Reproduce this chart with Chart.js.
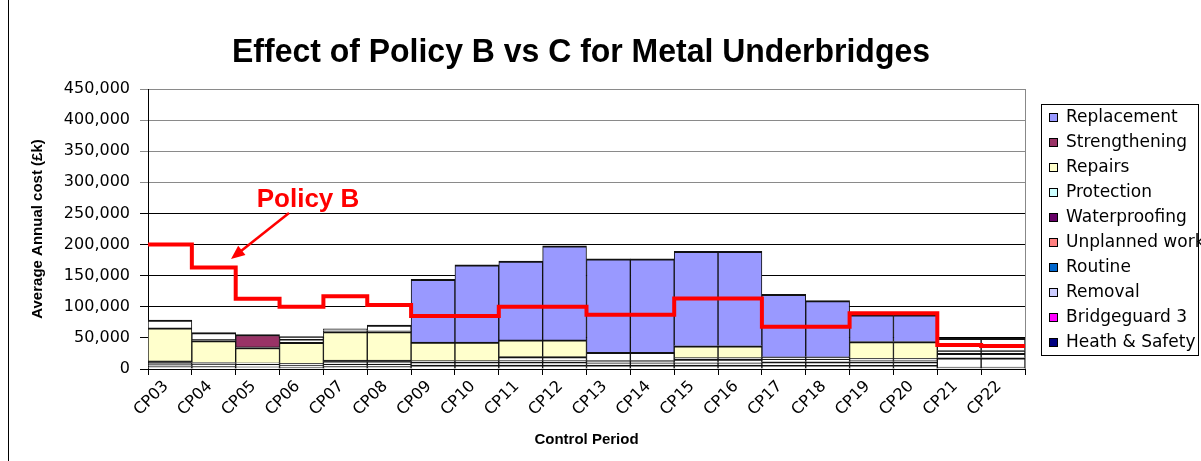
<!DOCTYPE html>
<html>
<head>
<title>Effect of Policy B vs C for Metal Underbridges</title>
<script src="https://cdn.jsdelivr.net/npm/chart.js"></script>
<style>
  body { margin: 0; background: #fff; }
  #wrap { width: 1201px; height: 461px; }
</style>
</head>
<body>
<div id="wrap"><canvas id="costChart" width="1201" height="461"></canvas></div>
<script>
// control periods (x categories)
const periods = ['CP03', 'CP04', 'CP05', 'CP06', 'CP07', 'CP08', 'CP09', 'CP10', 'CP11', 'CP12',
                 'CP13', 'CP14', 'CP15', 'CP16', 'CP17', 'CP18', 'CP19', 'CP20', 'CP21', 'CP22'];

// Policy C cost breakdown, average annual cost (£k), stacked bottom -> top
const heathSafety   = [4000, 4000, 3500, 3000, 4000, 4000, 6400, 6400, 6400, 6400, 6400, 6400, 6400, 6400, 6000, 6000, 6000, 6000, 3000, 3000];
const bridgeguard3  = [3000, 4500, 4500, 3500, 4000, 4000, 4300, 4300, 4300, 4300, 3600, 3600, 3600, 3600, 5500, 5500, 5500, 5500, 15000, 15000];
const removal       = [3000, 2000, 2000, 2500, 4000, 4000, 2700, 2700, 2700, 2700, 3400, 3400, 5600, 5600, 4500, 4500, 3000, 3000, 7000, 7000];
const waterproofing = [3000, null, null, null, 2500, 2500, null, null, null, null, null, null, null, null, null, null, null, null, null, null];
const unplanned     = [null, null, null, null, null, null, null, null, 6400, 6400, 13400, 13400, 2600, 2600, 3500, 3500, 2500, 2500, 4500, 4500];
const repairs       = [53000, 35000, 24500, 34000, 45500, 45500, 30000, 30000, 27000, 27000, null, null, 19000, 19000, null, null, 27000, 27000, null, null];
const routine       = [null, 2200, null, 4500, 1500, 1500, null, null, null, null, null, null, null, null, null, null, null, null, 9000, 9000];
const protection    = [12500, 10800, 1000, 4500, 3000, 9000, null, null, null, null, null, null, null, null, null, null, null, null, 10800, 10800];
const strengthening = [null, null, 20000, null, null, null, null, null, null, null, null, null, null, null, null, null, null, null, null, null];
const replacement   = [null, null, null, null, null, null, 100600, 124100, 126800, 151200, 150200, 150200, 151800, 151800, 100500, 90500, 43000, 43000, null, null];

// Policy B total (£k), one level per control period
const policyB = [200000, 163000, 113000, 100000, 117000, 103000, 85000, 85000, 100000, 100000,
                 87000, 87000, 113500, 113500, 68000, 68000, 89500, 89500, 38500, 37000];

const yTicks = [0, 50000, 100000, 150000, 200000, 250000, 300000, 350000, 400000, 450000];

const serif = "'Liberation Sans', Arial, sans-serif";
const wide = "'DejaVu Sans', sans-serif";

// bar fill as it appears, key = legend swatch colour
const series = [
  { label: 'Heath & Safety', data: heathSafety, fill: '#ffffff', key: '#000080' },
  { label: 'Bridgeguard 3', data: bridgeguard3, fill: '#ffffff', key: '#ff00ff' },
  { label: 'Removal', data: removal, fill: '#ffffff', key: '#ccccff' },
  { label: 'Waterproofing', data: waterproofing, fill: '#3a3a3a', key: '#660066' },
  { label: 'Unplanned work', data: unplanned, fill: '#ffffff', key: '#ff8080' },
  { label: 'Repairs', data: repairs, fill: '#ffffcc', key: '#ffffcc' },
  { label: 'Routine', data: routine, fill: '#ffffff', key: '#0066cc' },
  { label: 'Protection', data: protection, fill: '#ffffff', key: '#ccffff' },
  { label: 'Strengthening', data: strengthening, fill: '#993366', key: '#993366' },
  { label: 'Replacement', data: replacement, fill: '#9999ff', key: '#9999ff' }
];
const legendOrder = ['Replacement', 'Strengthening', 'Repairs', 'Protection', 'Waterproofing',
                     'Unplanned work', 'Routine', 'Removal', 'Bridgeguard 3', 'Heath & Safety'];

const datasets = series.map(s => ({
  type: 'bar',
  label: s.label,
  data: s.data,
  backgroundColor: s.fill,
  borderColor: '#111',
  borderWidth: { top: 2, left: 1, right: 1, bottom: 0 },
  barPercentage: 1,
  categoryPercentage: 1,
  grouped: false,
  stack: 'policyC',
  order: 1
}));

// step line spans each whole period: point at each period's left edge
const stepPoints = policyB.map((v, i) => ({ x: i, y: v }));
stepPoints.push({ x: policyB.length, y: policyB[policyB.length - 1] });

datasets.push({
  type: 'line',
  label: 'Policy B',
  data: stepPoints,
  xAxisID: 'xLine',
  borderColor: '#ff0000',
  borderWidth: 4,
  pointRadius: 0,
  stepped: true,
  fill: false,
  order: 0
});

const decor = {
  id: 'decor',
  beforeDraw(chart) {
    const ctx = chart.ctx;
    ctx.save();
    ctx.fillStyle = '#fff';
    ctx.fillRect(0, 0, chart.width, chart.height);
    ctx.restore();
  },
  afterDraw(chart) {
    const ctx = chart.ctx;
    const area = chart.chartArea;
    ctx.save();

    // outer frame edge
    ctx.strokeStyle = '#000';
    ctx.lineWidth = 1;
    ctx.beginPath();
    ctx.moveTo(8.5, 0);
    ctx.lineTo(8.5, chart.height);
    ctx.stroke();

    // right edge of plot area
    ctx.strokeStyle = '#888';
    ctx.beginPath();
    ctx.moveTo(area.right + 0.5, area.top);
    ctx.lineTo(area.right + 0.5, area.bottom);
    ctx.stroke();

    // title
    ctx.fillStyle = '#000';
    ctx.font = 'bold 34px ' + serif;
    ctx.textAlign = 'center';
    ctx.textBaseline = 'alphabetic';
    ctx.save();
    ctx.translate(581, 62);
    ctx.scale(0.94, 1);
    ctx.fillText('Effect of Policy B vs C for Metal Underbridges', 0, 0);
    ctx.restore();

    // legend
    ctx.strokeStyle = '#000';
    ctx.strokeRect(1041.5, 104.5, 157, 251);
    ctx.font = '17px ' + wide;
    ctx.textAlign = 'left';
    ctx.textBaseline = 'middle';
    legendOrder.forEach((name, i) => {
      const s = series.find(d => d.label === name);
      const cy = 117 + i * 25;
      ctx.fillStyle = s.key;
      ctx.fillRect(1049, cy - 4, 9, 9);
      ctx.strokeStyle = '#000';
      ctx.strokeRect(1049.5, cy - 3.5, 8, 8);
      ctx.fillStyle = '#000';
      ctx.fillText(name, 1066, cy + 1);
    });

    // Policy B callout
    ctx.fillStyle = '#ff0000';
    ctx.font = 'bold 26px ' + serif;
    ctx.textAlign = 'center';
    ctx.textBaseline = 'alphabetic';
    ctx.fillText('Policy B', 308, 207);

    const x0 = 289, y0 = 213, x1 = 231, y1 = 259;
    const ang = Math.atan2(y1 - y0, x1 - x0);
    ctx.strokeStyle = '#ff0000';
    ctx.lineWidth = 2.5;
    ctx.beginPath();
    ctx.moveTo(x0, y0);
    ctx.lineTo(x1 - 10 * Math.cos(ang), y1 - 10 * Math.sin(ang));
    ctx.stroke();
    ctx.beginPath();
    ctx.moveTo(x1, y1);
    ctx.lineTo(x1 - 15 * Math.cos(ang - 0.4), y1 - 15 * Math.sin(ang - 0.4));
    ctx.lineTo(x1 - 15 * Math.cos(ang + 0.4), y1 - 15 * Math.sin(ang + 0.4));
    ctx.closePath();
    ctx.fill();

    ctx.restore();
  }
};

new Chart(document.getElementById('costChart'), {
  data: { labels: periods, datasets: datasets },
  plugins: [decor],
  options: {
    responsive: false,
    animation: false,
    layout: { padding: { left: 0, top: 89, right: 176, bottom: 0 } },
    plugins: {
      legend: { display: false },
      tooltip: { enabled: false },
      title: { display: false }
    },
    scales: {
      x: {
        type: 'category',
        stacked: true,
        offset: true,
        grid: { offset: true, drawOnChartArea: false, drawTicks: true, tickLength: 6, color: '#000' },
        border: { color: '#000', width: 1 },
        ticks: { color: '#000', font: { family: wide, size: 16 }, minRotation: 45, maxRotation: 45, padding: 2, labelOffset: -4 },
        title: { display: true, text: 'Control Period', color: '#000', font: { family: serif, size: 15, weight: 'bold' }, padding: { top: 0, bottom: 12 } },
        afterFit(axis) { axis.height = 92; }
      },
      xLine: {
        type: 'linear',
        display: false,
        min: 0,
        max: periods.length
      },
      y: {
        stacked: true,
        min: 0,
        max: 450000,
        afterBuildTicks(axis) { axis.ticks = yTicks.map(v => ({ value: v })); },
        grid: {
          color: c => (c.tick && c.tick.value >= 300000 ? '#8a8a8a' : '#000'),
          tickLength: 8,
          drawTicks: true
        },
        border: { color: '#000', width: 1 },
        ticks: {
          color: '#000',
          padding: 10,
          font: { family: wide, size: 16 },
          callback: v => v.toLocaleString('en-US')
        },
        title: { display: true, text: 'Average Annual cost (£k)', color: '#000', font: { family: serif, size: 15, weight: 'bold' }, padding: { top: 29, bottom: 0 } },
        afterFit(axis) { axis.width = 148; }
      }
    }
  }
});
</script>
</body>
</html>
